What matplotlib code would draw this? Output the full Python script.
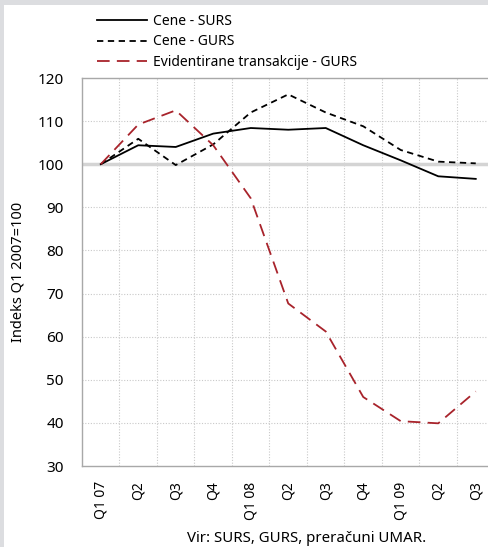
import numpy as np
import matplotlib.pyplot as plt
from matplotlib.patches import Rectangle

plt.rcParams['font.family'] = ['Noto Sans', 'DejaVu Sans']

# quarters
quarters = ["Q1 07", "Q2", "Q3", "Q4", "Q1 08", "Q2", "Q3", "Q4", "Q1 09", "Q2", "Q3"]

# index values, Q1 2007 = 100
cene_surs = [100, 104.4, 104.0, 107.1, 108.4, 108.0, 108.4, 104.4, 100.9, 97.2, 96.6]
cene_gurs = [100, 105.9, 99.8, 104.6, 112.0, 116.2, 112.0, 108.8, 103.3, 100.6, 100.2]
transakcije = [100, 109.2, 112.5, 104.4, 92.1, 67.7, 61.2, 46.0, 40.4, 39.9, 47.3]

W, H = 489, 547
fig = plt.figure(figsize=(W / 100, H / 100), dpi=100, facecolor='#dcdde0')
fig.patches.append(Rectangle((4 / W, 0), 1, 1 - 5 / H, transform=fig.transFigure,
                             facecolor='white', edgecolor='none', zorder=-5))

# axes box: left 82px, top 78px, bottom 466px, 37.5px per quarter
left, top, bottom = 82, 78, 466
width = 37.5 * len(quarters)
ax = fig.add_axes([left / W, 1 - bottom / H, width / W, (bottom - top) / H])
ax.set_facecolor('white')

x = np.arange(len(quarters))
ax.plot(x, cene_surs, color='black', lw=1.3, label='Cene - SURS', zorder=4)
ax.plot(x, cene_gurs, color='black', lw=1.3, ls=(0, (3.5, 2.5)), label='Cene - GURS', zorder=4)
ax.plot(x, transakcije, color='#a8232b', lw=1.3, ls=(0, (7, 4)),
        label='Evidentirane transakcije - GURS', zorder=4)

ax.set_xlim(-0.5, len(quarters) - 0.5)
ax.set_ylim(30, 120)
ax.set_yticks(range(30, 121, 10))
ax.set_xticks(x)
ax.set_xticklabels(quarters, rotation=90, fontsize=10)
ax.set_xticks(x[:-1] + 0.5, minor=True)
ax.tick_params(axis='x', which='both', length=0, pad=11)
ax.tick_params(axis='y', length=0, pad=13, labelsize=11)

# grid
ax.grid(axis='x', which='minor', color='#c9c9c9', ls=(0, (1, 1.5)), lw=0.8)
for v in range(40, 120, 10):
    if v != 100:
        ax.axhline(v, color='#c9c9c9', ls=(0, (1, 1.5)), lw=0.8, zorder=1)
ax.axhline(100, color='#d4d4d4', lw=2.5, zorder=2)

for s in ['left', 'bottom', 'top']:
    ax.spines[s].set_color('#a8a8a8')
    ax.spines[s].set_linewidth(1)
ax.spines['right'].set_visible(False)

ax.set_ylabel('Indeks Q1 2007=100', fontsize=10.5)
ax.yaxis.set_label_coords(-56 / width, 0.5)

fig.legend(loc='upper left', bbox_to_anchor=(91 / W, 1 - 8 / H), frameon=False,
           fontsize=10, handlelength=3.6, handletextpad=0.45, labelspacing=0.42,
           borderaxespad=0)

fig.text(307 / W, 1 - 538 / H, 'Vir: SURS, GURS, preračuni UMAR.', ha='center',
         va='center', fontsize=10.8)

fig.savefig('out.png', dpi=100, facecolor=fig.get_facecolor())
